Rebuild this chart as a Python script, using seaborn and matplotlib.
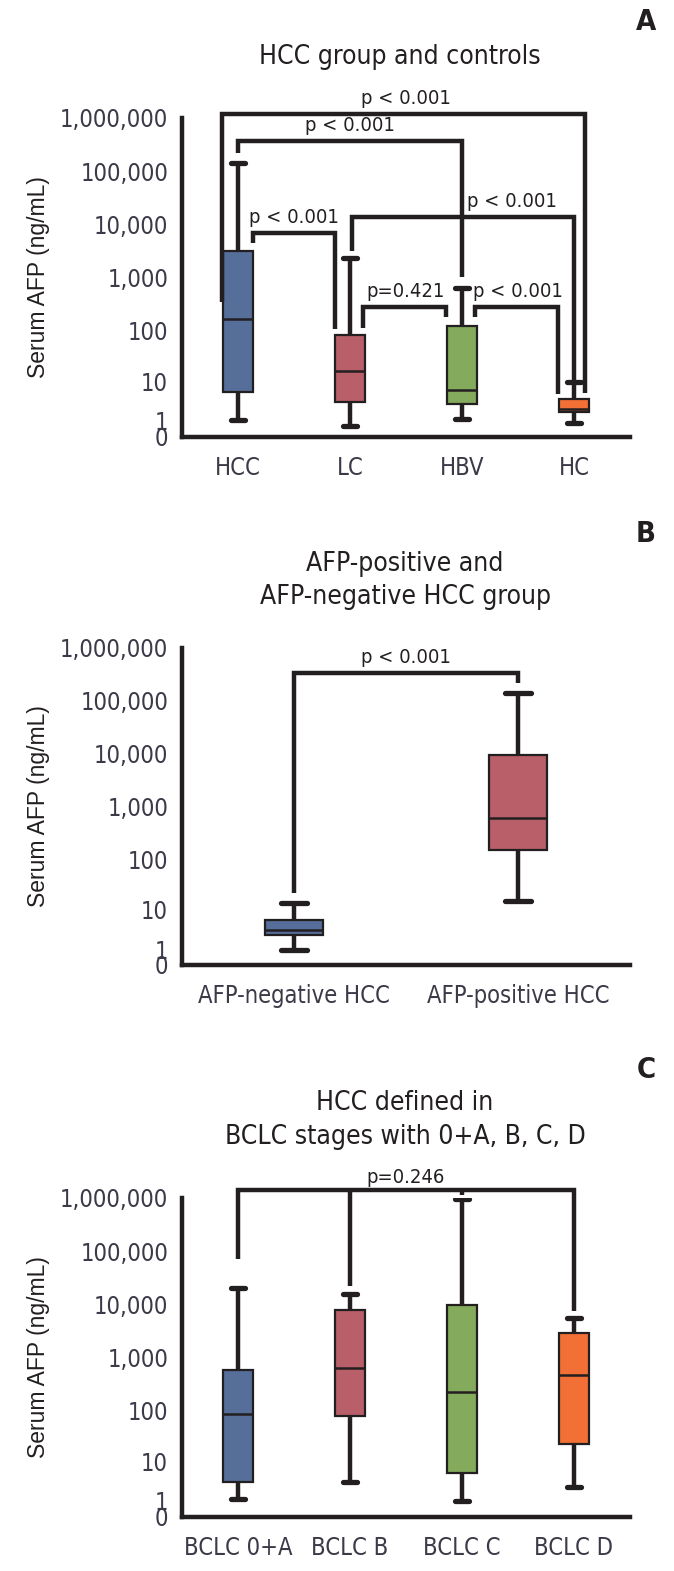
import numpy as np
import pandas as pd
import matplotlib
matplotlib.use("Agg")
import matplotlib.pyplot as plt
from matplotlib import font_manager as fm
import seaborn as sns

sns.set_style("white")

# pick a condensed font if one is installed
cond_family, cond_stretch = None, 'normal'
prefs = ['Liberation Sans Narrow', 'DejaVu Sans', 'Roboto Condensed', 'Open Sans Condensed',
         'Noto Sans', 'Roboto', 'Open Sans']
found = []
for f in fm.fontManager.ttflist:
    st = f.stretch
    is_cond = ('Narrow' in f.name or 'Condensed' in f.name or
               (isinstance(st, str) and 'condensed' in st) or
               (isinstance(st, (int, float)) and st < 500))
    if is_cond and f.style == 'normal' and f.weight in ('normal', 400, 'regular', 'book'):
        found.append((f.name, st))
for p in prefs:
    for n, st in found:
        if n == p:
            cond_family, cond_stretch = n, st
            break
    if cond_family:
        break
if cond_family is None and found:
    cond_family, cond_stretch = found[0]
if cond_family is None:
    cond_family, cond_stretch = 'Liberation Sans', 'normal'

plt.rcParams['font.family'] = [cond_family, 'DejaVu Sans']
plt.rcParams['font.stretch'] = cond_stretch

# ---------------- data ----------------
# each box: [whisker low, Q1, median, Q3, whisker high]
groups_a = ["HCC", "LC", "HBV", "HC"]
hcc = [1.09, 5.9, 168, 3190, 142000]
lc = [0.63, 3.5, 16.4, 82, 2300]
hbv = [1.18, 3.2, 6.65, 121, 626]
hc = [0.86, 1.91, 2.36, 4.25, 10]

groups_b = ["AFP-negative HCC", "AFP-positive HCC"]
afp_neg = [0.92, 2.7, 3.6, 6.1, 13.7]
afp_pos = [15.3, 150, 600, 9480, 143000]

groups_c = ["BCLC 0+A", "BCLC B", "BCLC C", "BCLC D"]
bclc_0a = [1.18, 3.55, 85.5, 581, 20000]
bclc_b = [3.55, 78, 634, 7820, 15400]
bclc_c = [1.03, 5.8, 226, 9700, 944000]
bclc_d = [2.7, 22.6, 468, 2925, 5530]

yticks = [0, 1, 10, 100, 1000, 10000, 100000, 1000000]
ytick_labels = ["0", "1", "10", "100", "1,000", "10,000", "100,000", "1,000,000"]

p_a = ["p < 0.001", "p < 0.001", "p < 0.001", "p < 0.001", "p=0.421", "p < 0.001"]
p_b = ["p < 0.001"]
p_c = ["p=0.246"]

titles = ["HCC group and controls",
          "AFP-positive and\nAFP-negative HCC group",
          "HCC defined in\nBCLC stages with 0+A, B, C, D"]
panel_letters = ["A", "B", "C"]
ylabel = "Serum AFP (ng/mL)"

blue, red, green, orange = "#566e9a", "#b85f69", "#84aa5c", "#f26f36"
pal_a = [blue, red, green, orange]
pal_b = [blue, red]
pal_c = [blue, red, green, orange]

# -------------- figure ----------------
W, H = 674, 1571
fig = plt.figure(figsize=(W / 100, H / 100), dpi=100)

def fwd(x):
    x = np.asarray(x, dtype=float)
    return np.log10(np.maximum(x, 0) + 1)

def inv(u):
    return 10 ** np.asarray(u, dtype=float) - 1

ink = "#231f20"
tick_col = "#3b3a48"
condensed = cond_stretch != 'normal'
tick_fs = 17 if condensed else 15
title_fs = 19 if condensed else 17
p_fs = 14.5 if condensed else 13

def make_axes(top_px, bottom_px):
    left, right = 182, 630
    return fig.add_axes([left / W, (H - bottom_px) / H, (right - left) / W, (bottom_px - top_px) / H])

def draw_panel(ax, groups, boxes, palette, width):
    ax.set_yscale('function', functions=(fwd, inv))
    rows = []
    for g, vals in zip(groups, boxes):
        for v in vals:
            rows.append({"group": g, "value": v})
    df = pd.DataFrame(rows)
    sns.boxplot(data=df, x="group", y="value", hue="group", palette=palette,
                order=groups, hue_order=groups, legend=False,
                whis=(0, 100), width=width, ax=ax, saturation=1,
                linecolor=ink, linewidth=1.6, showfliers=False,
                whiskerprops=dict(linewidth=3.2, color=ink),
                capprops=dict(linewidth=3.8, color=ink),
                medianprops=dict(linewidth=1.8, color=ink),
                boxprops=dict(linewidth=1.6, edgecolor=ink))
    # narrow the whisker caps
    for ln in ax.lines:
        xd = np.asarray(ln.get_xdata(), dtype=float)
        yd = np.asarray(ln.get_ydata(), dtype=float)
        if len(xd) == 2 and yd[0] == yd[1] and abs(xd[1] - xd[0]) < width * 0.9 \
                and ln.get_linewidth() > 3:
            c = xd.mean()
            ln.set_xdata([c - 0.06, c + 0.06])
    ax.set_xlim(-0.5, len(groups) - 0.5)
    ax.set_ylim(0, 1000000)
    ax.set_yticks(yticks)
    ax.set_yticklabels(ytick_labels)
    ax.set_xlabel("")
    ax.set_ylabel(ylabel, fontsize=16.5, family=['Liberation Sans', 'DejaVu Sans'],
                  fontstretch='normal', color=ink, labelpad=7)
    for s in ["top", "right"]:
        ax.spines[s].set_visible(False)
    for s in ["left", "bottom"]:
        ax.spines[s].set_linewidth(3.2)
        ax.spines[s].set_color(ink)
    ax.tick_params(axis='y', direction='out', length=7, width=3.2, color=ink,
                   labelsize=tick_fs, labelcolor=tick_col, pad=3)
    ax.tick_params(axis='x', direction='out', length=8, width=3.2, color=ink,
                   labelsize=tick_fs, labelcolor=tick_col, pad=6)
    ax.yaxis.set_minor_locator(matplotlib.ticker.NullLocator())
    ax.grid(False)
    ax.set_facecolor("white")

def bracket(ax, x1, x2, y, y1, y2, text, tx=None, ty_off=1.3):
    ax.plot([x1, x1, x2, x2], [y1, y, y, y2], color=ink, lw=3.2,
            clip_on=False, solid_joinstyle='miter', solid_capstyle='butt', zorder=5)
    if tx is None:
        tx = (x1 + x2) / 2
    ax.text(tx, y * ty_off, text, ha='center', va='bottom', fontsize=p_fs,
            color=ink, clip_on=False)

# ---------- Panel A ----------
axA = make_axes(118, 437)
draw_panel(axA, groups_a, [hcc, lc, hbv, hc], pal_a, 0.27)
bracket(axA, -0.14, 3.1, inv(fwd(1e6) + 0.07), inv(2.53), inv(0.83), p_a[0], tx=1.5)
bracket(axA, 0.0, 2.0, inv(5.57), inv(5.34), inv(3.01), p_a[1], tx=1.0)
bracket(axA, 0.13, 0.87, inv(3.84), inv(3.65), inv(2.04), p_a[2], tx=0.5)
bracket(axA, 1.02, 3.0, inv(4.14), inv(3.49), inv(0.98), p_a[3], tx=2.45)
bracket(axA, 1.12, 1.86, inv(2.45), inv(2.05), inv(2.25), p_a[4], tx=1.5)
bracket(axA, 2.12, 2.86, inv(2.45), inv(2.25), inv(0.8), p_a[5], tx=2.5)

# ---------- Panel B ----------
axB = make_axes(648, 965)
draw_panel(axB, groups_b, [afp_neg, afp_pos], pal_b, 0.26)
bracket(axB, 0.0, 1.0, inv(5.53), inv(1.36), inv(5.34), p_b[0], tx=0.5)

# ---------- Panel C ----------
axC = make_axes(1198, 1517)
draw_panel(axC, groups_c, [bclc_0a, bclc_b, bclc_c, bclc_d], pal_c, 0.27)
yb = inv(6.15)
axC.plot([0, 0, 3, 3], [inv(4.86), yb, yb, inv(3.87)], color=ink, lw=3.2,
         clip_on=False, solid_joinstyle='miter', solid_capstyle='butt', zorder=5)
axC.plot([1, 1], [yb, inv(4.35)], color=ink, lw=3.2, clip_on=False,
         solid_capstyle='butt', zorder=5)
axC.plot([2, 2], [yb, inv(6.05)], color=ink, lw=3.2, clip_on=False,
         solid_capstyle='butt', zorder=5)
axC.text(1.5, inv(6.2), p_c[0], ha='center', va='bottom', fontsize=p_fs, color=ink,
         clip_on=False)

# ---------- titles & letters ----------
fig.text(400 / W, 1 - 57 / H, titles[0], ha='center', va='center', fontsize=title_fs, color=ink)
fig.text(405 / W, 1 - 581 / H, titles[1], ha='center', va='center', fontsize=title_fs,
         color=ink, linespacing=1.35)
fig.text(405 / W, 1 - 1120 / H, titles[2], ha='center', va='center', fontsize=title_fs,
         color=ink, linespacing=1.35)
for letter, ypx in zip(panel_letters, [22, 534, 1070]):
    fig.text(646 / W, 1 - ypx / H, letter, ha='center', va='center', fontsize=21,
             fontweight='bold', color=ink)

fig.savefig("out.png", dpi=100, facecolor="white")
